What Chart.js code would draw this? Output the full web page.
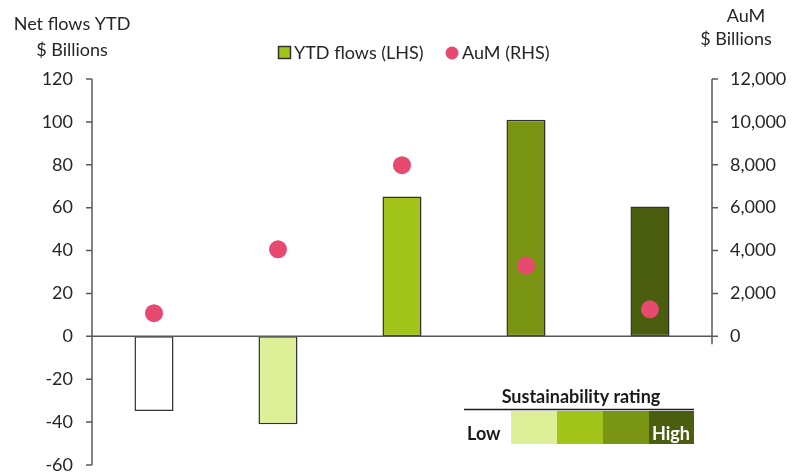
<!DOCTYPE html>
<html>
<head>
<meta charset="utf-8">
<script src="https://cdn.jsdelivr.net/npm/chart.js@4/dist/chart.umd.min.js"></script>
<style>
  html, body { margin: 0; padding: 0; background: #fff; }
  #wrap { width: 805px; height: 476px; position: relative; }
</style>
</head>
<body>
<div id="wrap"><canvas id="c" width="805" height="476"></canvas></div>
<script>
// Sustainability rating buckets, lowest to highest
const categories = ['Lowest', 'Low', 'Medium', 'High', 'Highest'];
// Net flows year-to-date, $ billions (left axis)
const ytdFlows = [-34.8, -41, 65.2, 101, 60.6];
// Assets under management, $ billions (right axis)
const aum = [1080, 4060, 7980, 3300, 1260];
// Bar fill per rating bucket
const barColors = ['#ffffff', '#ddf097', '#a2c41a', '#7a9414', '#4b5e10'];
const legendScale = ['#ddf097', '#a2c41a', '#7a9414', '#4b5e10'];
const leftTicks = [-60, -40, -20, 0, 20, 40, 60, 80, 100, 120];
const rightTicks = [0, 2000, 4000, 6000, 8000, 10000, 12000];

const FONT = 'Lato, "Open Sans", sans-serif';
const TEXT = '#262626';
const AXIS = '#595959';
const DOT = '#e8496e';

// keep the plot area fixed: no extra room for overflowing tick labels
function fixAxis(width) {
  return s => {
    s.width = width;
    s.paddingTop = 0;
    s.paddingBottom = 0;
  };
}

const decor = {
  id: 'decor',
  afterDraw(chart) {
    const ctx = chart.ctx;
    const yL = chart.scales.y, yR = chart.scales.y1;
    const a = chart.chartArea;
    ctx.save();
    ctx.strokeStyle = AXIS;
    ctx.lineWidth = 1.5;
    // left axis with outward ticks
    ctx.beginPath();
    ctx.moveTo(a.left, yL.getPixelForValue(120));
    ctx.lineTo(a.left, yL.getPixelForValue(-60));
    leftTicks.forEach(v => {
      const y = yL.getPixelForValue(v);
      ctx.moveTo(a.left - 6, y);
      ctx.lineTo(a.left, y);
    });
    // zero line across the plot
    const y0 = yL.getPixelForValue(0);
    ctx.moveTo(a.left, y0);
    ctx.lineTo(a.right + 6, y0);
    // right axis with outward ticks
    ctx.moveTo(a.right, yR.getPixelForValue(12000));
    ctx.lineTo(a.right, yR.getPixelForValue(0) + 8);
    rightTicks.forEach(v => {
      const y = yR.getPixelForValue(v);
      ctx.moveTo(a.right, y);
      ctx.lineTo(a.right + 6, y);
    });
    ctx.stroke();

    // axis titles
    ctx.fillStyle = TEXT;
    ctx.font = '18px ' + FONT;
    ctx.textBaseline = 'middle';
    ctx.textAlign = 'center';
    ctx.fillText('Net flows YTD', 72, 24);
    ctx.fillText('$ Billions', 72, 50);
    ctx.fillText('AuM', 746, 16);
    ctx.fillText('$ Billions', 736, 39);

    // series legend
    ctx.textAlign = 'left';
    ctx.fillStyle = '#a2c41a';
    ctx.fillRect(278.5, 46.5, 12, 12);
    ctx.strokeStyle = '#333';
    ctx.lineWidth = 1.5;
    ctx.strokeRect(278.5, 46.5, 12, 12);
    ctx.fillStyle = TEXT;
    ctx.fillText('YTD flows (LHS)', 294, 53);
    ctx.fillStyle = DOT;
    ctx.beginPath();
    ctx.arc(452, 53, 6.5, 0, Math.PI * 2);
    ctx.fill();
    ctx.fillStyle = TEXT;
    ctx.fillText('AuM (RHS)', 462, 53);

    // sustainability rating key
    ctx.font = 'bold 18px ' + FONT;
    ctx.textAlign = 'center';
    ctx.fillStyle = '#1a1a1a';
    ctx.fillText('Sustainability rating', 581, 397);
    ctx.strokeStyle = '#1a1a1a';
    ctx.lineWidth = 1.5;
    ctx.beginPath();
    ctx.moveTo(464, 409.5);
    ctx.lineTo(694, 409.5);
    ctx.stroke();
    const xs = [511, 557, 603, 649, 694];
    legendScale.forEach((c, i) => {
      ctx.fillStyle = c;
      ctx.fillRect(xs[i], 411, xs[i + 1] - xs[i], 33);
    });
    ctx.textAlign = 'left';
    ctx.fillStyle = '#1a1a1a';
    ctx.fillText('Low', 467, 434);
    ctx.fillStyle = '#ffffff';
    ctx.fillText('High', 652, 434);
    ctx.restore();
  }
};

new Chart(document.getElementById('c'), {
  data: {
    labels: categories,
    datasets: [
      {
        type: 'line',
        label: 'AuM (RHS)',
        data: aum,
        yAxisID: 'y1',
        showLine: false,
        pointRadius: 9,
        pointHoverRadius: 9,
        pointBackgroundColor: DOT,
        pointBorderWidth: 0,
        order: 0
      },
      {
        type: 'bar',
        label: 'YTD flows (LHS)',
        data: ytdFlows,
        yAxisID: 'y',
        backgroundColor: barColors,
        borderColor: '#333333',
        borderWidth: 1.5,
        borderSkipped: false,
        categoryPercentage: 1,
        barPercentage: 0.315,
        order: 1
      }
    ]
  },
  options: {
    responsive: false,
    animation: false,
    events: [],
    layout: { padding: { left: 0, right: 0, top: 79, bottom: 11 } },
    plugins: { legend: { display: false }, tooltip: { enabled: false } },
    scales: {
      x: { type: 'category', display: false, offset: true },
      y: {
        position: 'left',
        min: -60, max: 120,
        grid: { display: false, drawTicks: false },
        border: { display: false },
        ticks: { stepSize: 20, padding: 19, color: TEXT, font: { family: FONT, size: 18 } },
        afterFit: fixAxis(92)
      },
      y1: {
        position: 'right',
        min: -6000, max: 12000,
        grid: { display: false, drawTicks: false },
        border: { display: false },
        ticks: {
          stepSize: 2000, padding: 18, color: TEXT, font: { family: FONT, size: 18 },
          callback: v => v < 0 ? null : v.toLocaleString('en-US')
        },
        afterFit: fixAxis(93)
      }
    }
  },
  plugins: [decor]
});
</script>
</body>
</html>
